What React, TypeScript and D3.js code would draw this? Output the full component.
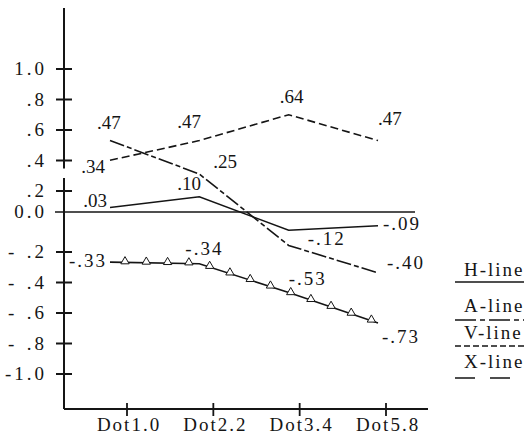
import type { ReactNode } from "react";
import { line, scaleLinear, scalePoint, symbol, symbolTriangle } from "d3";

const categories = ["Dot1.0", "Dot2.2", "Dot3.4", "Dot5.8"];
const hLine = [0.03, 0.1, -0.12, -0.09];
const aLine = [0.47, 0.25, -0.22, -0.4];
const vLine = [0.34, 0.47, 0.64, 0.47];
const xLine = [-0.33, -0.34, -0.53, -0.73];
const yTicks = [1.0, 0.8, 0.6, 0.4, 0.2, 0, -0.2, -0.4, -0.6, -0.8, -1.0];
const legendLabels = ["H-line", "A-line", "V-line", "X-line"];

const INK = "#151515";

type Lab = { dx: number; dy: number; anchor?: "start" | "end" } | null;

// where each value label sits relative to its point
const series: { name: string; values: number[]; dash?: string; labels: Lab[] }[] = [
  {
    name: "H",
    values: hLine,
    labels: [
      { dx: -3, dy: 0, anchor: "end" },
      { dx: -22, dy: -7 },
      { dx: 19, dy: 15 },
      { dx: 5, dy: 4 }
    ]
  },
  {
    name: "A",
    values: aLine,
    dash: "15 3 5 3",
    labels: [{ dx: -13, dy: -12 }, { dx: 14, dy: -6 }, null, { dx: 9, dy: -4 }]
  },
  {
    name: "V",
    values: vLine,
    dash: "8 4",
    labels: [
      { dx: -5, dy: 13, anchor: "end" },
      { dx: -22, dy: -13 },
      { dx: -9, dy: -12 },
      { dx: 0, dy: -16 }
    ]
  },
  {
    name: "X",
    values: xLine,
    labels: [
      { dx: -3, dy: 5, anchor: "end" },
      { dx: -14, dy: -9 },
      { dx: 0, dy: -8 },
      { dx: 4, dy: 20 }
    ]
  }
];

const legendDash = [undefined, "21 4 5 4", "6 3", "20 15"];

function fmtValue(v: number) {
  const s = "." + String(Math.round(Math.abs(v) * 100)).padStart(2, "0");
  return v < 0 ? "-" + s : s;
}

function sampleAlong(pts: [number, number][], start: number, step: number) {
  const out: [number, number][] = [];
  let next = start;
  let walked = 0;
  for (let i = 1; i < pts.length; i++) {
    const [x0, y0] = pts[i - 1];
    const [x1, y1] = pts[i];
    const len = Math.hypot(x1 - x0, y1 - y0);
    while (next <= walked + len) {
      const t = (next - walked) / len;
      out.push([x0 + (x1 - x0) * t, y0 + (y1 - y0) * t]);
      next += step;
    }
    walked += len;
  }
  return out;
}

function T({
  x,
  y,
  anchor = "start",
  ls = 0,
  children
}: {
  x: number;
  y: number;
  anchor?: "start" | "middle" | "end";
  ls?: number;
  children: ReactNode;
}) {
  return (
    <text x={x} y={y} textAnchor={anchor} fill={INK} fontSize={19} letterSpacing={ls} style={{ fontFamily: "'Liberation Serif'" }}>
      {children}
    </text>
  );
}

export default function App() {
  const width = 524;
  const height = 439;

  const xTick = scalePoint<string>().domain(categories).range([127, 386]);
  const xData = scalePoint<string>().domain(categories).range([110, 378]);
  const y = scaleLinear().domain([0, 1]).range([212, 60]);
  const yTickPos = scaleLinear().domain([-1, 1]).range([374, 69]);

  const axisX = 64;
  const axisY = 409;

  const path = line<number>()
    .x((_, i) => xData(categories[i]) ?? 0)
    .y((d) => y(d));

  const xPts: [number, number][] = xLine.map((v, i) => [xData(categories[i]) ?? 0, y(v)]);
  const triangles = sampleAlong(xPts, 15, 21.3);
  const tri = symbol().type(symbolTriangle).size(30)() ?? "";

  return (
    <svg width={width} height={height} style={{ position: "absolute", left: 0, top: 0, background: "#fff" }}>
      {/* y axis with a break between .4 and .2 */}
      <line x1={axisX} x2={axisX} y1={8} y2={yTickPos(0.4) + 8} stroke={INK} strokeWidth={2} />
      <line x1={axisX} x2={axisX} y1={yTickPos(0.2) - 13} y2={axisY} stroke={INK} strokeWidth={2} />
      {yTicks
        .filter((t) => t !== 0)
        .map((t) => {
          const ty = yTickPos(t);
          const neg = t < 0 && t > -1;
          const label = t === 1 ? "1.0" : t === -1 ? "-1.0" : "." + Math.round(Math.abs(t) * 10);
          return (
            <g key={t}>
              <line x1={56} x2={72} y1={ty} y2={ty} stroke={INK} strokeWidth={2} />
              {neg ? (
                <T x={8} y={ty + 6}>
                  -
                </T>
              ) : null}
              <T x={47} y={ty + 6} anchor="end" ls={3}>
                {label}
              </T>
            </g>
          );
        })}
      <T x={47} y={y(0) + 6} anchor="end" ls={3}>
        0.0
      </T>
      <line x1={55} x2={415} y1={y(0)} y2={y(0)} stroke={INK} strokeWidth={1.6} />

      {/* x axis */}
      <line x1={axisX} x2={428} y1={axisY} y2={axisY} stroke={INK} strokeWidth={2} />
      {categories.map((c) => (
        <g key={c}>
          <line x1={xTick(c)} x2={xTick(c)} y1={403} y2={416} stroke={INK} strokeWidth={1.8} />
          <T x={(xTick(c) ?? 0) + 2} y={431} anchor="middle" ls={2}>
            {c}
          </T>
        </g>
      ))}

      {/* series */}
      {series.map((s) => (
        <g key={s.name}>
          <path d={path(s.values) ?? ""} fill="none" stroke={INK} strokeWidth={1.6} strokeDasharray={s.dash} />
          {s.values.map((v, i) => {
            const lab = s.labels[i];
            if (!lab) return null;
            return (
              <T
                key={i}
                x={(xData(categories[i]) ?? 0) + lab.dx}
                y={y(v) + lab.dy}
                anchor={lab.anchor ?? "start"}
                ls={v < 0 ? 2 : 0}
              >
                {fmtValue(v)}
              </T>
            );
          })}
        </g>
      ))}
      {triangles.map(([tx, ty], i) => (
        <path key={i} d={tri} transform={`translate(${tx},${ty - 1})`} fill="#fff" stroke={INK} strokeWidth={1} />
      ))}

      {/* legend */}
      {legendLabels.map((l, i) => {
        const base = [276, 312, 339, 368][i];
        const ly = [282, 320, 346, 378][i];
        return (
          <g key={l}>
            <T x={464} y={base} ls={2}>
              {l}
            </T>
            <line x1={455} x2={524} y1={ly} y2={ly} stroke={INK} strokeWidth={1.6} strokeDasharray={legendDash[i]} />
          </g>
        );
      })}
    </svg>
  );
}
